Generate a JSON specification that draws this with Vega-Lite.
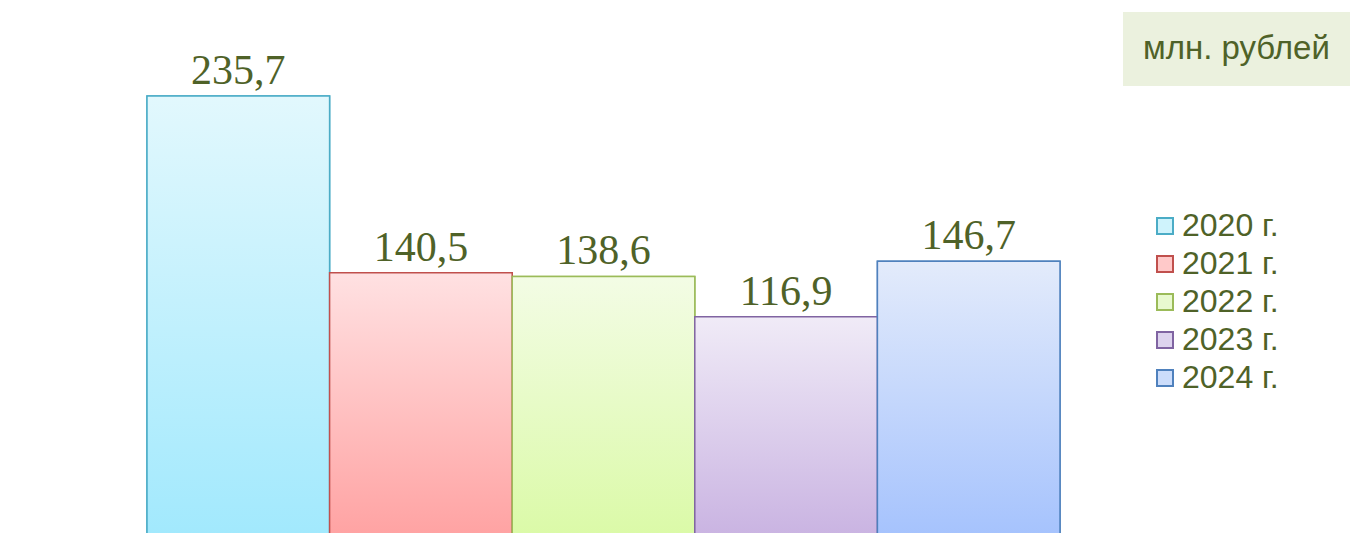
{
  "$schema": "https://vega.github.io/schema/vega-lite/v6.json",
  "autosize": {"type": "none"},
  "padding": {"left": 147, "top": 0, "right": 298, "bottom": 0},
  "width": 913,
  "height": 534,
  "background": "white",
  "config": {"view": {"stroke": null}},
  "data": {"values": [
    {"year": "2020 г.", "value": 235.7, "label": "235,7"},
    {"year": "2021 г.", "value": 140.5, "label": "140,5"},
    {"year": "2022 г.", "value": 138.6, "label": "138,6"},
    {"year": "2023 г.", "value": 116.9, "label": "116,9"},
    {"year": "2024 г.", "value": 146.7, "label": "146,7"}
  ]},
  "encoding": {
    "x": {"field": "year", "type": "nominal", "axis": null, "sort": null,
          "scale": {"paddingInner": 0, "paddingOuter": 0}},
    "y": {"field": "value", "type": "quantitative", "axis": null,
          "scale": {"domain": [0, 287.3], "nice": false}}
  },
  "layer": [
    {
      "mark": {"type": "bar", "strokeWidth": 1.5},
      "encoding": {
        "fill": {"field": "year", "type": "nominal",
                 "scale": {"domain": ["2020 г.", "2021 г.", "2022 г.", "2023 г.", "2024 г."],
                           "range": ["#CFF3FC", "#FFC9C9", "#E8F9CF", "#DDD3EE", "#CCDDFB"]},
                 "legend": {"title": null, "orient": "none", "legendX": 1002, "legendY": 210,
                            "padding": 0, "symbolType": "square", "symbolSize": 256,
                            "symbolStrokeWidth": 2, "labelFont": "Liberation Sans",
                            "labelFontSize": 32, "labelColor": "#4F6228", "labelOffset": 1,
                            "rowPadding": 6, "labelLimit": 300}},
        "stroke": {"field": "year", "type": "nominal",
                   "scale": {"domain": ["2020 г.", "2021 г.", "2022 г.", "2023 г.", "2024 г."],
                             "range": ["#4BACC6", "#C0504D", "#9BBB59", "#8064A2", "#4F81BD"]},
                   "legend": {"title": null, "orient": "none", "legendX": 1002, "legendY": 210,
                            "padding": 0, "symbolType": "square", "symbolSize": 256,
                            "symbolStrokeWidth": 2, "labelFont": "Liberation Sans",
                            "labelFontSize": 32, "labelColor": "#4F6228", "labelOffset": 1,
                            "rowPadding": 6, "labelLimit": 300}}
      }
    },
    {
      "mark": {"type": "bar", "strokeWidth": 1.5},
      "encoding": {
        "fill": {
          "condition": [
            {"test": "datum.year === '2020 г.'", "value": {"gradient": "linear", "x1": 0, "y1": 0, "x2": 0, "y2": 1, "stops": [{"offset": 0, "color": "#E2F8FD"}, {"offset": 1, "color": "#A2E9FD"}]}},
            {"test": "datum.year === '2021 г.'", "value": {"gradient": "linear", "x1": 0, "y1": 0, "x2": 0, "y2": 1, "stops": [{"offset": 0, "color": "#FFE1E2"}, {"offset": 1, "color": "#FFA3A3"}]}},
            {"test": "datum.year === '2022 г.'", "value": {"gradient": "linear", "x1": 0, "y1": 0, "x2": 0, "y2": 1, "stops": [{"offset": 0, "color": "#F3FCE5"}, {"offset": 1, "color": "#DBFAA8"}]}},
            {"test": "datum.year === '2023 г.'", "value": {"gradient": "linear", "x1": 0, "y1": 0, "x2": 0, "y2": 1, "stops": [{"offset": 0, "color": "#F0EBF7"}, {"offset": 1, "color": "#CAB4E2"}]}}
          ],
          "value": {"gradient": "linear", "x1": 0, "y1": 0, "x2": 0, "y2": 1, "stops": [{"offset": 0, "color": "#E3EBFB"}, {"offset": 1, "color": "#A6C3FD"}]}
        },
        "stroke": {"field": "year", "type": "nominal"}
      }
    },
    {
      "mark": {"type": "text", "font": "Liberation Serif", "fontSize": 42, "color": "#4F6228",
               "baseline": "alphabetic", "dy": -12},
      "encoding": {"text": {"field": "label"}}
    },
    {
      "data": {"values": [{"unit": "млн. рублей"}]},
      "mark": {"type": "point", "opacity": 0},
      "encoding": {
        "x": null, "y": null,
        "shape": {"field": "unit", "type": "nominal",
                  "legend": {"title": null, "orient": "none", "legendX": 976, "legendY": 12,
                             "padding": 20, "fillColor": "#EBF1DE", "symbolSize": 0,
                             "symbolOpacity": 0, "symbolStrokeWidth": 0, "labelOffset": -33,
                             "labelFont": "Liberation Sans", "labelFontSize": 33,
                             "labelColor": "#4F6228", "labelLimit": 400}}
      }
    }
  ]
}
